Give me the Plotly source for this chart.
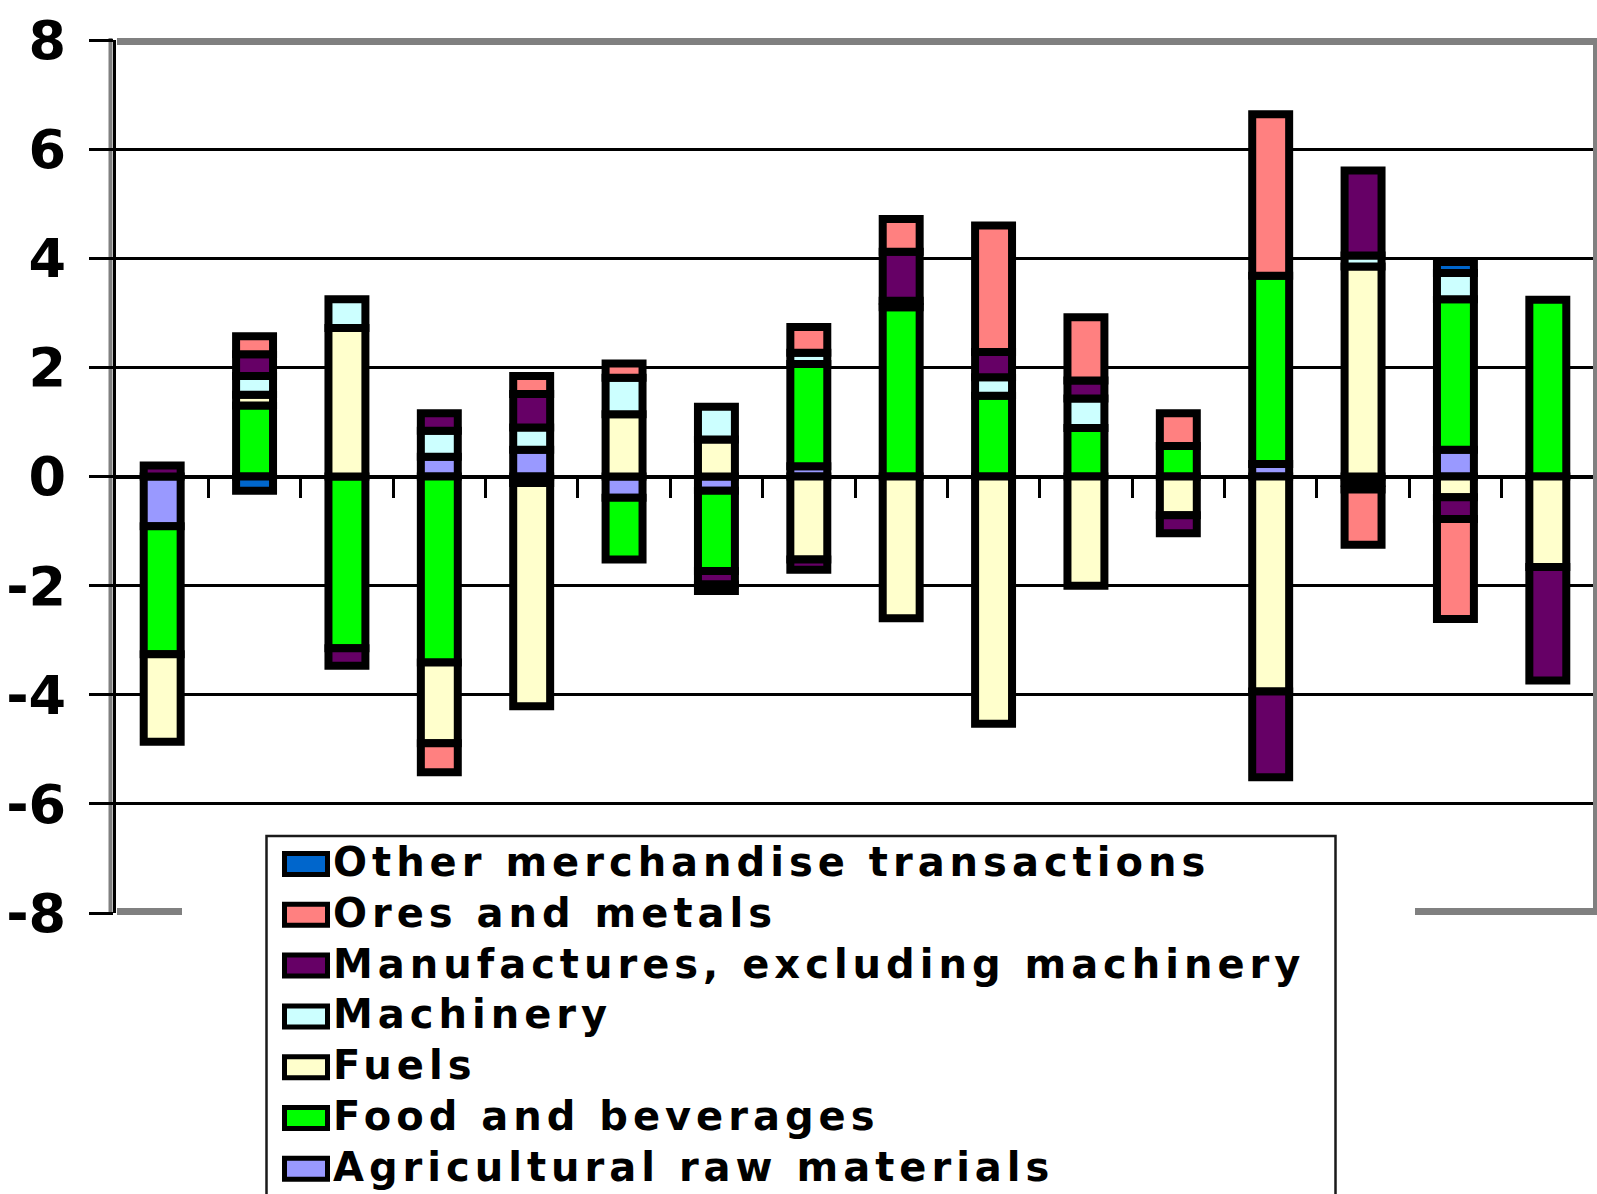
import plotly.graph_objects as go

# Bar positions (one stacked bar per period)
positions = list(range(1, 17))

# Contributions by product group, in stacking order (closest to zero first)
agricultural = [-0.91, None, None, 0.36, 0.49, -0.39, -0.26, 0.19, None, None, None, None, 0.23, -0.12, 0.49, None]
food = [-2.35, 1.30, -3.15, -3.41, -0.12, -1.13, -1.47, 1.87, 3.10, 1.48, 0.89, 0.56, 3.45, -0.12, 2.76, 3.24]
fuels = [-1.60, 0.20, 2.72, -1.48, -4.09, 1.14, 0.68, -1.52, -2.60, -4.53, -2.00, -0.71, -3.94, 3.85, -0.38, -1.66]
machinery = [None, 0.34, 0.53, 0.48, 0.41, 0.67, 0.60, 0.21, 0.12, 0.34, 0.54, None, None, 0.20, 0.48, None]
manufactures = [0.20, 0.40, -0.32, 0.32, 0.61, None, -0.25, -0.19, 0.90, 0.46, 0.33, -0.33, -1.57, 1.56, -0.40, -2.08]
ores = [None, 0.33, None, -0.53, 0.33, 0.26, None, 0.47, 0.60, 2.32, 1.16, 0.60, 2.96, -1.01, -1.83, None]
other = [None, -0.26, None, None, None, None, -0.12, None, None, None, None, None, None, None, 0.20, None]

series_names = [
    "Agricultural raw materials",
    "Food and beverages",
    "Fuels",
    "Machinery",
    "Manufactures, excluding machinery",
    "Ores and metals",
    "Other merchandise transactions",
]
series_values = [agricultural, food, fuels, machinery, manufactures, ores, other]
series_colors = ["#9999FF", "#00FF00", "#FFFFCC", "#CCFFFF", "#660066", "#FF8080", "#0066CC"]

y_tick_values = [-8, -6, -4, -2, 0, 2, 4, 6, 8]
y_tick_labels = ["-8", "-6", "-4", "-2", "0", "2", "4", "6", "8"]
x_boundaries = [p + 0.5 for p in positions]

# Page geometry
W, H = 1597, 1194
L, R, T, B = 116, 3, 40, 281
PW = W - L - R
PH = H - T - B


def px(x):
    return (x - L) / PW


def py(y):
    return (H - B - y) / PH


fig = go.Figure()
for name, vals, color in zip(series_names, series_values, series_colors):
    fig.add_trace(go.Bar(
        x=positions, y=vals, name=name, width=0.4,
        marker=dict(color=color, line=dict(color="black", width=8)),
        showlegend=False,
    ))

GRAY = "#808080"
shapes = [
    # shadow beside the value axis
    dict(type="line", xref="paper", yref="paper", x0=px(110.5), x1=px(110.5), y0=py(38), y1=py(914),
         line=dict(color=GRAY, width=4), layer="below"),
    # plot frame: top, right, bottom
    dict(type="line", xref="paper", yref="paper", x0=px(117), x1=px(1597), y0=py(41.5), y1=py(41.5),
         line=dict(color=GRAY, width=7)),
    dict(type="line", xref="paper", yref="paper", x0=px(1595), x1=px(1595), y0=py(38), y1=py(915),
         line=dict(color=GRAY, width=4)),
    dict(type="line", xref="paper", yref="paper", x0=px(117), x1=px(182), y0=py(911.5), y1=py(911.5),
         line=dict(color=GRAY, width=7)),
    dict(type="line", xref="paper", yref="paper", x0=px(1415), x1=px(1597), y0=py(911.5), y1=py(911.5),
         line=dict(color=GRAY, width=7)),
    # legend area
    dict(type="rect", xref="paper", yref="paper", x0=px(182), x1=px(1415), y0=py(905), y1=py(1200),
         fillcolor="white", line=dict(width=0)),
    dict(type="rect", xref="paper", yref="paper", x0=px(266.5), x1=px(1335.5), y0=py(836), y1=py(1215),
         fillcolor="white", line=dict(color="#1a1a1a", width=2.5)),
]

annotations = []
row0, row_step = 862, 50.8
for i, (name, color) in enumerate(zip(series_names[::-1], series_colors[::-1])):
    cy = row0 + i * row_step
    sy = cy + 2
    shapes.append(dict(type="rect", xref="paper", yref="paper",
                       x0=px(284.5), x1=px(327.5), y0=py(sy + 10.5), y1=py(sy - 10.5),
                       fillcolor=color, line=dict(color="black", width=5)))
    annotations.append(dict(
        xref="paper", yref="paper", x=px(331), y=py(cy), xanchor="left", yanchor="middle",
        text=f'<span style="letter-spacing:5px">{name}</span>', showarrow=False,
        font=dict(family="DejaVu Sans", size=40, color="black", weight="bold"),
    ))

fig.update_layout(
    width=W, height=H,
    margin=dict(l=L, r=R, t=T, b=B),
    paper_bgcolor="white", plot_bgcolor="white",
    barmode="relative",
    showlegend=False,
    shapes=shapes,
    annotations=annotations,
    xaxis=dict(
        range=[0.5, 16.5], anchor="free", position=0.5,
        showline=True, linecolor="black", linewidth=3,
        showgrid=False, zeroline=False,
        tickmode="array", tickvals=x_boundaries, showticklabels=False,
        ticks="outside", ticklen=19, tickwidth=3, tickcolor="black",
        layer="below traces",
    ),
    yaxis=dict(
        range=[-8, 8],
        showline=True, linecolor="black", linewidth=3,
        showgrid=True, gridcolor="black", gridwidth=3,
        zeroline=False,
        tickmode="array", tickvals=y_tick_values, ticktext=y_tick_labels,
        ticks="outside", ticklen=24, tickwidth=3, tickcolor="black",
        ticklabelstandoff=12,
        tickfont=dict(family="DejaVu Sans", size=54, color="black", weight="bold"),
    ),
)

fig.write_html("out.html")
